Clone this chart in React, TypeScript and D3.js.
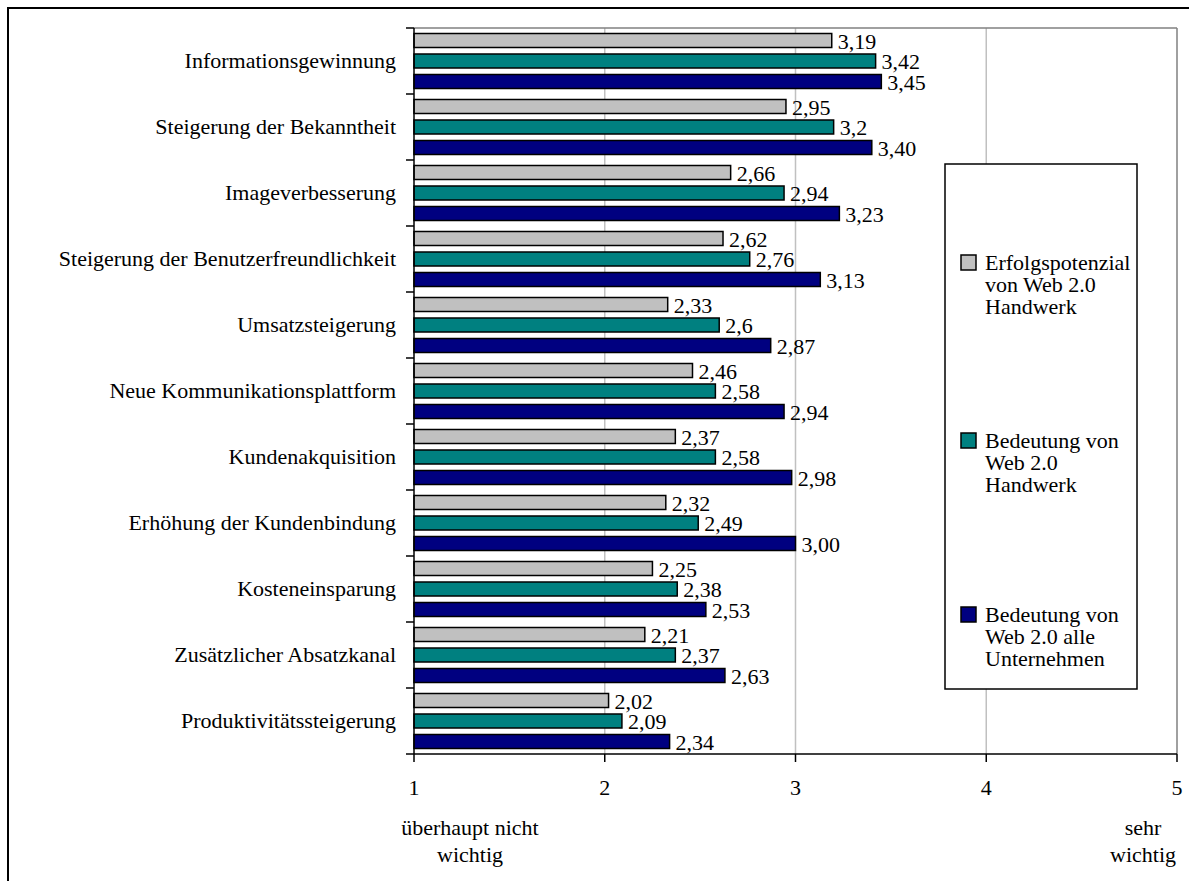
import React from "react";
import * as d3 from "d3";

const categories = [
  "Informationsgewinnung",
  "Steigerung der Bekanntheit",
  "Imageverbesserung",
  "Steigerung der Benutzerfreundlichkeit",
  "Umsatzsteigerung",
  "Neue Kommunikationsplattform",
  "Kundenakquisition",
  "Erhöhung der Kundenbindung",
  "Kosteneinsparung",
  "Zusätzlicher Absatzkanal",
  "Produktivitätssteigerung",
];

const erfolgspotenzialHandwerk = [3.19, 2.95, 2.66, 2.62, 2.33, 2.46, 2.37, 2.32, 2.25, 2.21, 2.02];
const bedeutungHandwerk = [3.42, 3.2, 2.94, 2.76, 2.6, 2.58, 2.58, 2.49, 2.38, 2.37, 2.09];
const bedeutungAlle = [3.45, 3.4, 3.23, 3.13, 2.87, 2.94, 2.98, 3.0, 2.53, 2.63, 2.34];

const seriesNames = [
  ["Erfolgspotenzial", "von Web 2.0", "Handwerk"],
  ["Bedeutung von", "Web 2.0", "Handwerk"],
  ["Bedeutung von", "Web 2.0 alle", "Unternehmen"],
];
const seriesColors = ["#C0C0C0", "#008080", "#000080"];
const seriesFixedDecimals = [true, false, true];

const xTicks = [1, 2, 3, 4, 5];
const xGrid = [2, 3, 4];

const FONT = "'Liberation Serif', 'Times New Roman', serif";

function fmt(v: number, fixed: boolean) {
  const s = fixed ? v.toFixed(2) : String(+v.toFixed(2));
  return s.replace(".", ",");
}

export default function App() {
  const W = 1189;
  const H = 881;
  const left = 414;
  const right = 1177;
  const top = 28;
  const bottom = 754;
  const x = d3.scaleLinear().domain([1, 5]).range([left, right]);
  const y = d3.scaleBand<string>().domain(categories).range([top, bottom]);
  const series = [erfolgspotenzialHandwerk, bedeutungHandwerk, bedeutungAlle];
  const barH = 14;
  const pitch = 20.5;
  const fs = 22;

  const legend = { x: 945, y: 164, w: 192, h: 525 };
  const legendEntryTops = [255, 433, 607];

  return (
    <svg
      width={W}
      height={H}
      style={{ position: "absolute", left: 0, top: 0, background: "#fff" }}
      fontFamily={FONT}
    >
      <rect x={0} y={0} width={W} height={H} fill="#fff" />
      {/* outer frame */}
      <rect x={8} y={8} width={1220} height={920} fill="none" stroke="#000" strokeWidth={2} />

      {/* gridlines */}
      {xGrid.map((t) => (
        <line key={t} x1={x(t)} x2={x(t)} y1={top} y2={bottom} stroke="#C0C0C0" strokeWidth={1.5} />
      ))}
      {/* plot border top/right */}
      <line x1={left} x2={right} y1={top} y2={top} stroke="#808080" strokeWidth={1.5} />
      <line x1={right} x2={right} y1={top} y2={bottom} stroke="#808080" strokeWidth={1.5} />

      {/* bars */}
      {categories.map((c, ci) => {
        const cy = (y(c) as number) + y.bandwidth() / 2;
        return series.map((s, si) => {
          const by = cy + (si - 1) * pitch - barH / 2;
          const v = s[ci];
          return (
            <g key={c + si}>
              <rect
                x={x(1)}
                y={by}
                width={x(v) - x(1)}
                height={barH}
                fill={seriesColors[si]}
                stroke="#000"
                strokeWidth={1.5}
              />
              <text x={x(v) + 6} y={by + barH / 2 + 8} fontSize={fs} fill="#000">
                {fmt(v, seriesFixedDecimals[si])}
              </text>
            </g>
          );
        });
      })}

      {/* axes */}
      <line x1={left} x2={left} y1={top} y2={bottom} stroke="#000" strokeWidth={1.5} />
      <line x1={left} x2={right} y1={bottom} y2={bottom} stroke="#000" strokeWidth={1.5} />
      {categories.map((c) => (
        <line key={c} x1={left - 8} x2={left} y1={y(c) as number} y2={y(c) as number} stroke="#000" strokeWidth={1.5} />
      ))}
      <line x1={left - 8} x2={left} y1={bottom} y2={bottom} stroke="#000" strokeWidth={1.5} />
      {xTicks.map((t) => (
        <g key={t}>
          <line x1={x(t)} x2={x(t)} y1={bottom} y2={bottom + 8} stroke="#000" strokeWidth={1.5} />
          <text x={x(t)} y={bottom + 41} fontSize={fs} textAnchor="middle">
            {t}
          </text>
        </g>
      ))}

      {/* category labels */}
      {categories.map((c) => (
        <text
          key={c}
          x={396}
          y={(y(c) as number) + y.bandwidth() / 2 + 7}
          fontSize={fs}
          textAnchor="end"
        >
          {c}
        </text>
      ))}

      {/* scale end labels */}
      <text x={470} y={835} fontSize={fs} textAnchor="middle">überhaupt nicht</text>
      <text x={470} y={862} fontSize={fs} textAnchor="middle">wichtig</text>
      <text x={1143} y={835} fontSize={fs} textAnchor="middle">sehr</text>
      <text x={1143} y={862} fontSize={fs} textAnchor="middle">wichtig</text>

      {/* legend */}
      <rect x={legend.x} y={legend.y} width={legend.w} height={legend.h} fill="#fff" stroke="#000" strokeWidth={1.5} />
      {seriesNames.map((lines, si) => (
        <g key={si}>
          <rect
            x={961}
            y={legendEntryTops[si]}
            width={15}
            height={15}
            fill={seriesColors[si]}
            stroke="#000"
            strokeWidth={1.5}
          />
          {lines.map((l, li) => (
            <text key={li} x={985} y={legendEntryTops[si] + 15 + li * 22} fontSize={fs}>
              {l}
            </text>
          ))}
        </g>
      ))}
    </svg>
  );
}
